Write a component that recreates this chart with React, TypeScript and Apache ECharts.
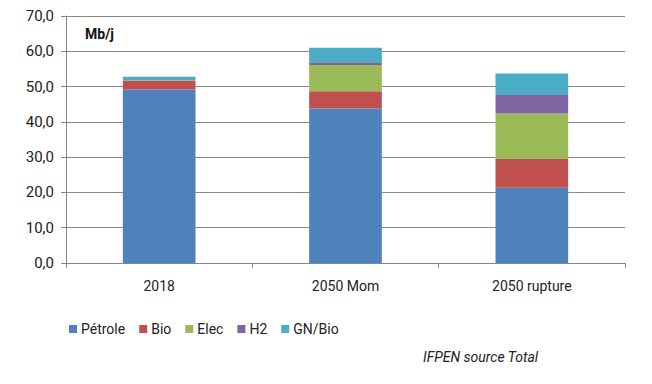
import React, { useEffect, useRef } from "react";
import * as echarts from "echarts";

const categories = ["2018", "2050 Mom", "2050 rupture"];
const petrole = [49.2, 43.8, 21.3];
const bio = [2.4, 4.9, 8.2];
const elec = [0.1, 7.4, 12.9];
const h2 = [0.1, 0.8, 5.2];
const gnBio = [1.0, 4.1, 6.1];
const seriesNames = ["Pétrole", "Bio", "Elec", "H2", "GN/Bio"];
const colors = ["#4F81BD", "#C0504D", "#9BBB59", "#8064A2", "#4BACC6"];

const FONT = "Roboto, 'Open Sans', sans-serif";

export default function App() {
  const ref = useRef<HTMLDivElement>(null);
  useEffect(() => {
    if (!ref.current) return;
    const chart = echarts.init(ref.current, undefined, { renderer: "svg" });
    const data = [petrole, bio, elec, h2, gnBio];
    chart.setOption({
      animation: false,
      color: colors,
      textStyle: { fontFamily: FONT },
      grid: { left: 66, right: 27, top: 16, bottom: 121, containLabel: false },
      xAxis: {
        type: "category",
        data: categories,
        axisLine: { lineStyle: { color: "#868686" } },
        axisTick: { show: true, length: 5, lineStyle: { color: "#868686" } },
        axisLabel: { color: "#222", fontSize: 14, margin: 16, fontFamily: FONT },
      },
      yAxis: {
        type: "value",
        min: 0,
        max: 70,
        interval: 10,
        axisLine: { show: true, lineStyle: { color: "#868686" } },
        axisTick: { show: true, length: 5, lineStyle: { color: "#868686" } },
        splitLine: { lineStyle: { color: "#8a8a8a" } },
        axisLabel: {
          color: "#222",
          fontSize: 15,
          margin: 12,
          fontFamily: FONT,
          formatter: (v: number) => v.toFixed(1).replace(".", ","),
        },
      },
      legend: {
        data: seriesNames,
        left: 64,
        top: 317,
        itemWidth: 8,
        itemHeight: 8,
        itemGap: 14,
        icon: "rect",
        textStyle: { color: "#222", fontSize: 14, fontFamily: FONT, padding: [0, 0, 0, -1] },
      },
      graphic: [
        {
          type: "text",
          left: 85,
          top: 27,
          style: { text: "Mb/j", font: `bold 14px ${FONT}`, fill: "#111" },
        },
        {
          type: "text",
          left: 423,
          top: 350,
          style: { text: "IFPEN source Total", font: `italic 14px ${FONT}`, fill: "#222" },
        },
      ],
      series: seriesNames.map((name, i) => ({
        name,
        type: "bar",
        stack: "total",
        barWidth: "39%",
        data: data[i],
        itemStyle: { color: colors[i] },
      })),
    });
    return () => chart.dispose();
  }, []);
  return <div ref={ref} style={{ width: 652, height: 384, margin: -8 }} />;
}
